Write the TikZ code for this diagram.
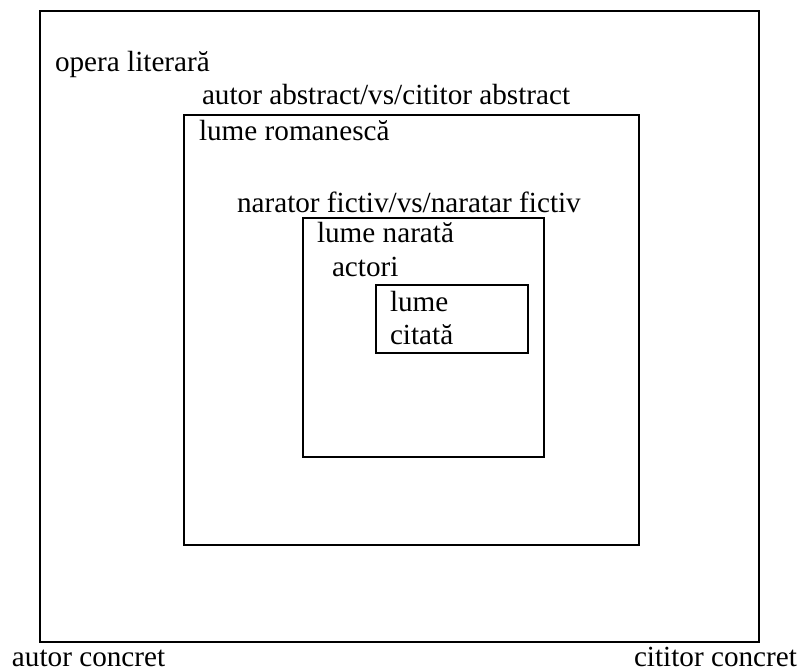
\documentclass[tikz,border=0pt]{standalone}
\usepackage{fontspec}
\setmainfont{Liberation Serif}
\begin{document}
\begin{tikzpicture}[x=1pt,y=-1pt,
  frame/.style={draw=black,line width=1.5pt},
  lbl/.style={anchor=base west,inner sep=0pt,outer sep=0pt,font=\fontsize{29.2}{34}\selectfont}]
\useasboundingbox (0,0) rectangle (799,671);
\draw[frame] (40,11) rectangle (759,642);
\draw[frame] (184,115) rectangle (639,545);
\draw[frame] (303,218) rectangle (544,457);
\draw[frame] (376,285) rectangle (528,353);
\node[lbl] (opera) at (55,72) {opera literară};
\node[lbl] (abstr) at (202,105) {autor abstract/vs/cititor abstract};
\node[lbl] (roman) at (199,141) {lume romanescă};
\node[lbl] (narator) at (237,212) {narator fictiv/vs/naratar fictiv};
\node[lbl] (narata) at (317,242) {lume narată};
\node[lbl] (actori) at (332,276) {actori};
\node[lbl] (lume) at (390,311) {lume};
\node[lbl] (citata) at (390,344) {citată};
\node[lbl] (autorc) at (12,666) {autor concret};
\node[lbl] (cititorc) at (634,666) {cititor concret};
\end{tikzpicture}
\end{document}
